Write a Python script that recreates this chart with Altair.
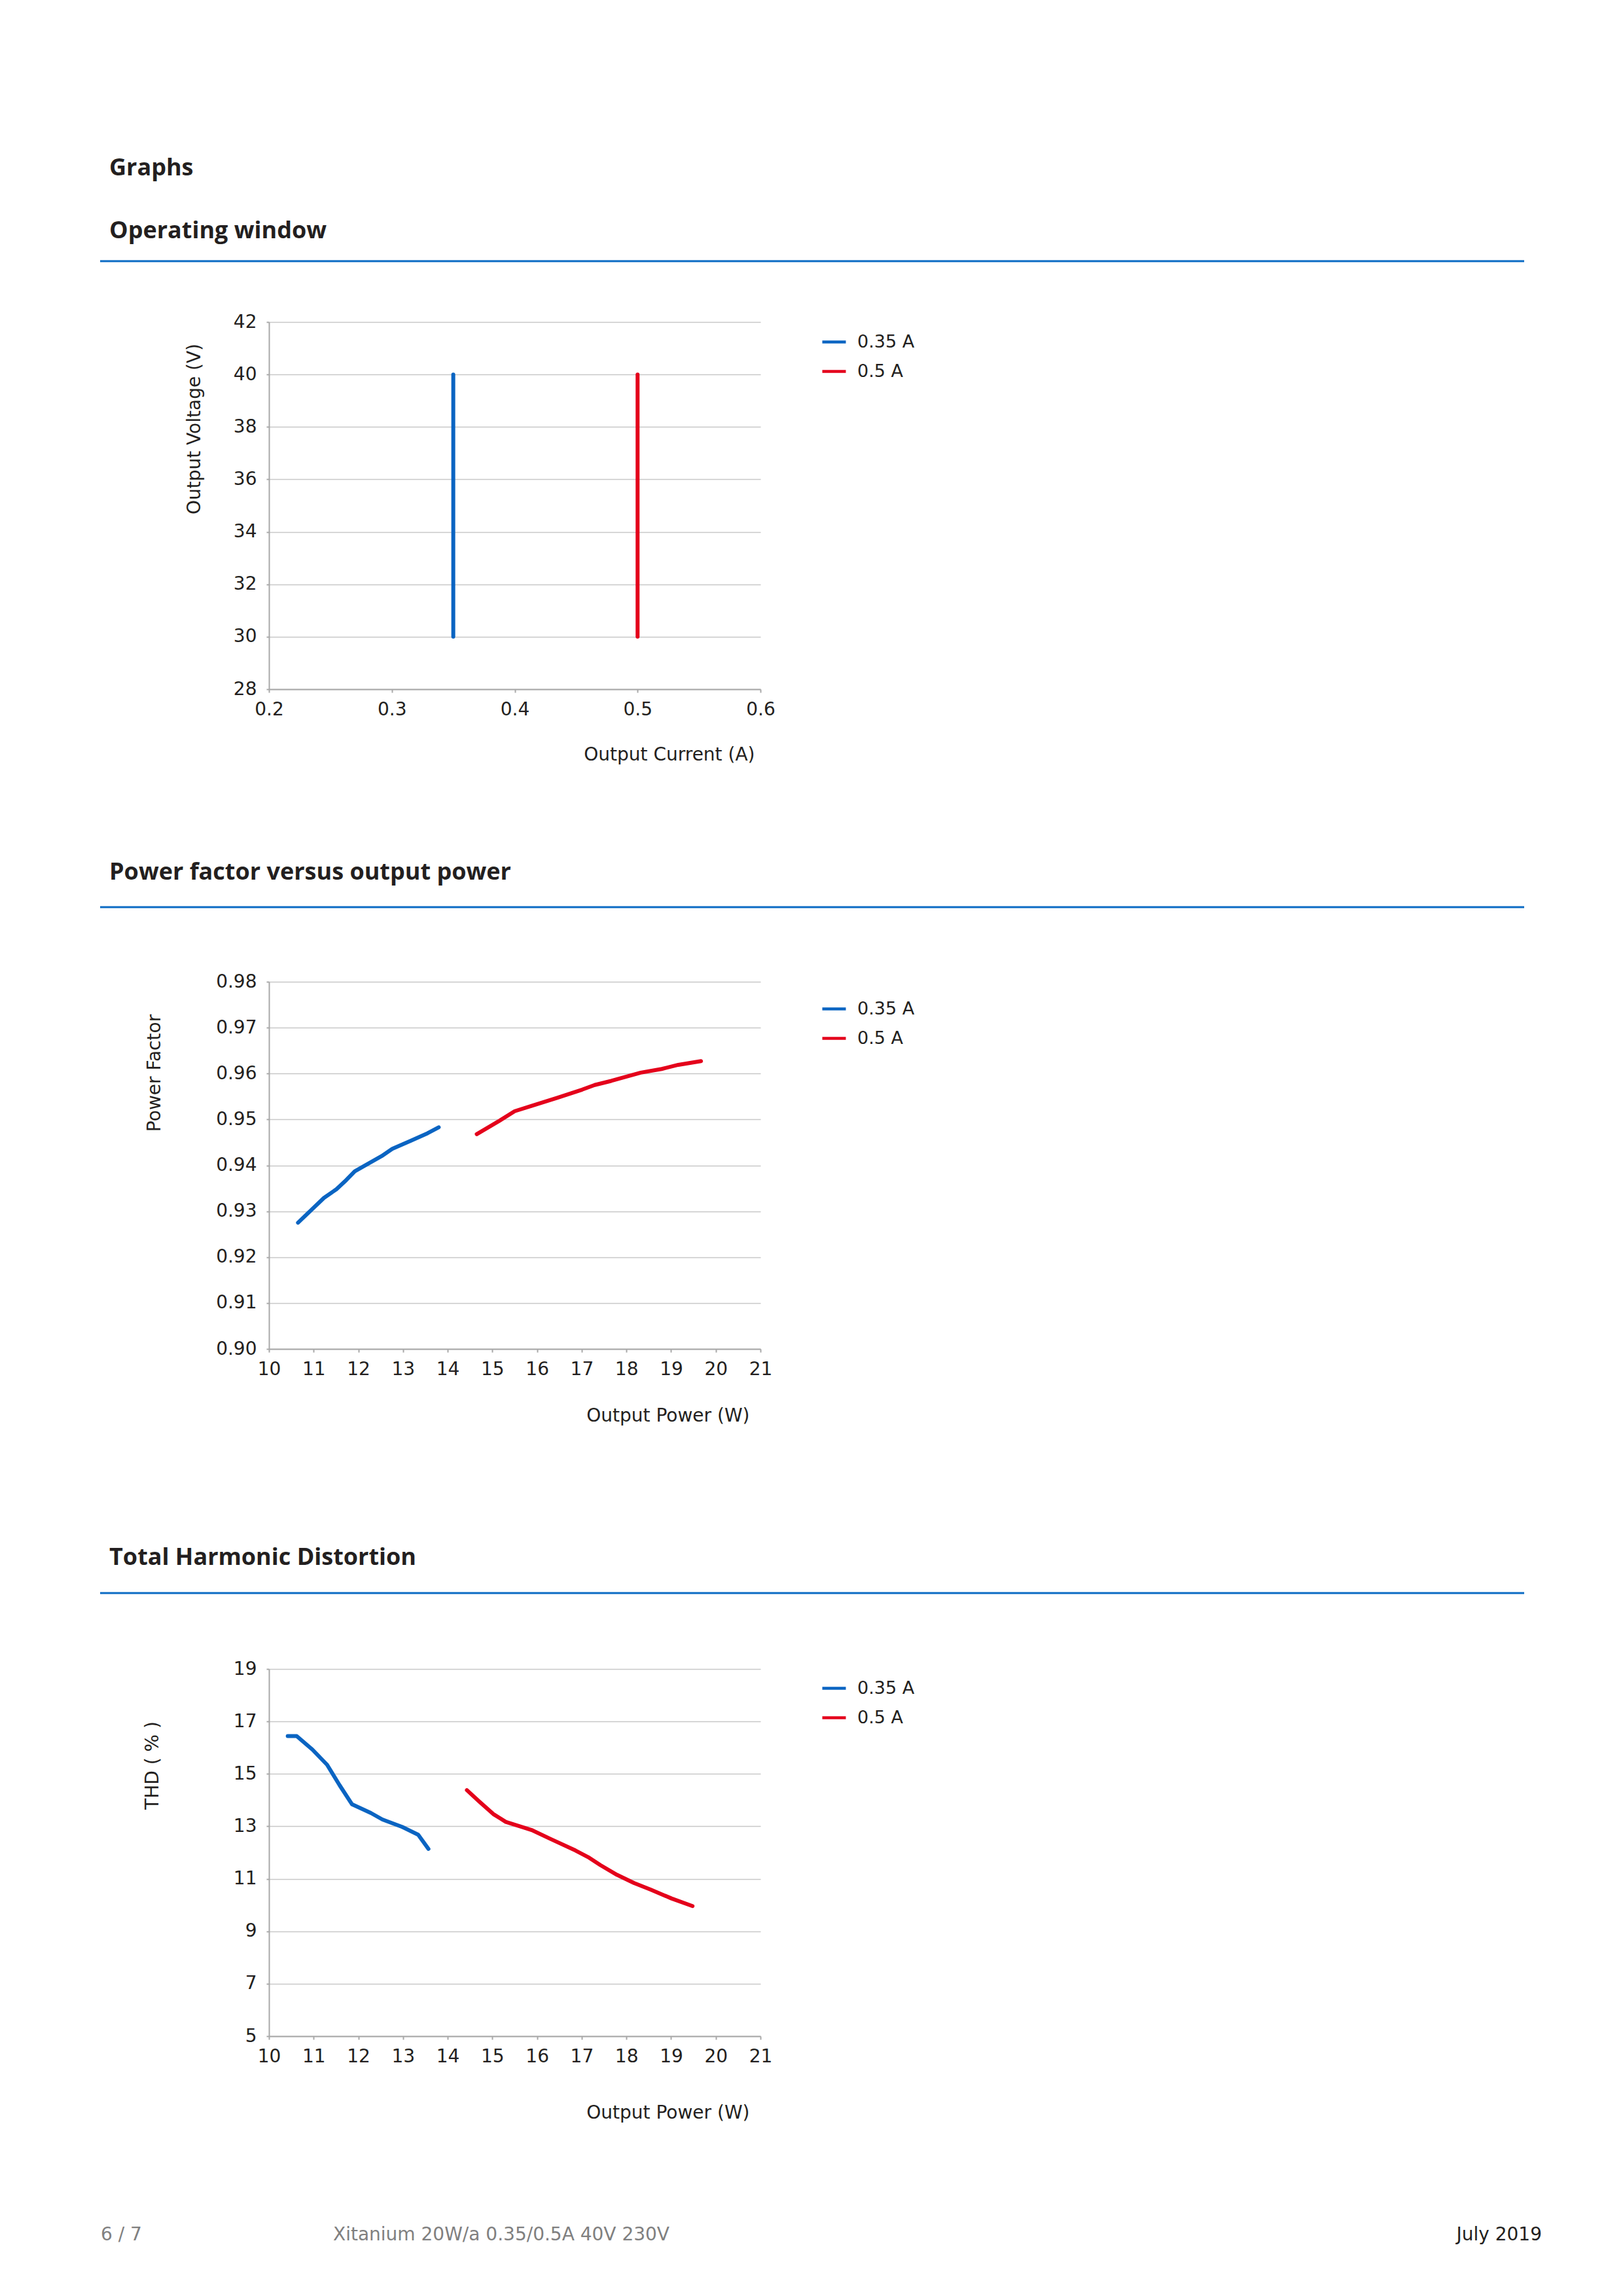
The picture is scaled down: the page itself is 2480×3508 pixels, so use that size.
import altair as alt
import pandas as pd

FONT = "DejaVu Sans"
HFONT = "Open Sans"
TXT = "#231f20"
GRAY_TXT = "#808080"
AXIS_C = "#a8a8a8"
GRID_C = "#c8c8c8"
BLUE_RULE = "#0b6bc4"

SERIES = ["0.35 A", "0.5 A"]
SERIES_COLORS = ["#0a64c2", "#e4001b"]

# ---- Operating window ----
ow_current_035 = [0.35, 0.35]
ow_voltage_035 = [30, 40]
ow_current_05 = [0.5, 0.5]
ow_voltage_05 = [30, 40]
ow_x_ticks = [0.2, 0.3, 0.4, 0.5, 0.6]
ow_y_ticks = [28, 30, 32, 34, 36, 38, 40, 42]

# ---- Power factor versus output power ----
pf_power_035 = [10.65, 11.23, 11.51, 11.73, 11.92, 12.10, 12.52, 12.76, 13.18, 13.55, 13.80]
pf_035 = [0.9275, 0.9329, 0.9348, 0.9368, 0.9387, 0.9397, 0.9420, 0.9436, 0.9454, 0.9470, 0.9483]
pf_power_05 = [14.65, 15.14, 15.50, 15.89, 16.45, 17.01, 17.29, 17.66, 18.32, 18.79, 19.16, 19.67]
pf_05 = [0.9468, 0.9496, 0.9518, 0.9530, 0.9547, 0.9565, 0.9575, 0.9584, 0.9602, 0.9610, 0.9619, 0.9627]
pf_y_ticks = [0.90, 0.91, 0.92, 0.93, 0.94, 0.95, 0.96, 0.97, 0.98]

# ---- Total Harmonic Distortion ----
thd_power_035 = [10.42, 10.62, 10.97, 11.30, 11.58, 11.86, 12.28, 12.54, 12.98, 13.34, 13.57]
thd_035 = [16.44, 16.44, 15.93, 15.35, 14.57, 13.84, 13.51, 13.26, 12.98, 12.68, 12.14]
thd_power_05 = [14.43, 14.71, 15.02, 15.30, 15.88, 16.30, 16.86, 17.14, 17.42, 17.79, 18.17, 18.54, 19.01, 19.48]
thd_05 = [14.38, 13.94, 13.47, 13.17, 12.86, 12.52, 12.08, 11.83, 11.52, 11.15, 10.84, 10.59, 10.25, 9.96]
thd_y_ticks = [5, 7, 9, 11, 13, 15, 17, 19]

power_x_ticks = [10, 11, 12, 13, 14, 15, 16, 17, 18, 19, 20, 21]

PLOT_W, PLOT_H = 751, 561


def frame(xs_a, ys_a, xs_b, ys_b):
    return pd.DataFrame({
        "x": list(xs_a) + list(xs_b),
        "y": list(ys_a) + list(ys_b),
        "series": [SERIES[0]] * len(xs_a) + [SERIES[1]] * len(xs_b),
        "order": list(range(len(xs_a))) + list(range(len(xs_b))),
    })


def x_axis(values, fmt, title, title_x, title_y):
    return alt.Axis(values=values, format=fmt, title=title, grid=False,
                    domainColor=AXIS_C, domainWidth=2, tickColor=AXIS_C, tickWidth=2,
                    tickSize=5, labelFont=FONT, labelFontSize=28, labelColor=TXT,
                    labelPadding=12, labelFlush=False, labelOverlap=False,
                    titleFont=FONT, titleFontSize=28, titleFontWeight="normal",
                    titleColor=TXT, titleX=title_x, titleY=title_y,
                    titleAlign="right", titleBaseline="alphabetic")


def y_axis(values, fmt, title, title_x, title_y):
    return alt.Axis(values=values, format=fmt, title=title, grid=True,
                    gridColor=GRID_C, gridWidth=1.5,
                    domainColor=AXIS_C, domainWidth=2, tickColor=AXIS_C, tickWidth=2,
                    tickSize=4, labelFont=FONT, labelFontSize=28, labelColor=TXT,
                    labelPadding=15, labelOverlap=False, labelBaseline="middle",
                    titleFont=FONT, titleFontSize=28, titleFontWeight="normal",
                    titleColor=TXT, titleX=title_x, titleY=title_y, titleAngle=270,
                    titleAlign="center", titleBaseline="middle")


def data_layer(df, xdom, ydom, xaxis, yaxis, legend_y):
    return alt.Chart(df).mark_line(strokeWidth=6, strokeCap="round", strokeJoin="round").encode(
        x=alt.X("x:Q", scale=alt.Scale(domain=xdom, nice=False, zero=False), axis=xaxis),
        y=alt.Y("y:Q", scale=alt.Scale(domain=ydom, nice=False, zero=False), axis=yaxis),
        color=alt.Color("series:N", scale=alt.Scale(domain=SERIES, range=SERIES_COLORS),
                        legend=alt.Legend(orient="none", legendX=843, legendY=legend_y,
                                          title=None, symbolType="stroke", symbolSize=1296,
                                          symbolStrokeWidth=4.5, labelFont=FONT, labelFontSize=27,
                                          labelColor=TXT, labelOffset=15, rowPadding=11,
                                          padding=0)),
        order="order:Q",
    )


def text_layer(txt, x, y, size, weight="normal", color=TXT, align="left", font=FONT):
    return alt.Chart(pd.DataFrame({"t": [txt]})).mark_text(
        font=font, fontSize=size, fontWeight=weight, color=color, align=align,
        baseline="alphabetic").encode(text="t:N", x=alt.value(x), y=alt.value(y))


def rule_layer(x1, x2, y, color=BLUE_RULE, width=3):
    return alt.Chart(pd.DataFrame({"r": [0]})).mark_rule(color=color, strokeWidth=width).encode(
        x=alt.value(x1), x2=alt.value(x2), y=alt.value(y))


def spacer(h):
    return alt.Chart(pd.DataFrame({"r": [0]})).mark_point(opacity=0).encode(
        x=alt.value(0), y=alt.value(0)).properties(width=PLOT_W, height=h)


# Panel 1: Operating window
ow_df = frame(ow_current_035, ow_voltage_035, ow_current_05, ow_voltage_05)
panel1 = alt.layer(
    rule_layer(-402, -400, -483, color="#ffffff", width=1),
    text_layer("Graphs", -244, -224, 36, "bold", font=HFONT),
    text_layer("Operating window", -244, -128, 36, "bold", font=HFONT),
    rule_layer(-258, 1918, -93),
    data_layer(ow_df, [0.2, 0.6], [28, 42],
               x_axis(ow_x_ticks, ".1f", "Output Current (A)", 742, 108),
               y_axis(ow_y_ticks, "d", "Output Voltage (V)", -114, 163), 10),
).properties(width=PLOT_W, height=PLOT_H)

# Panel 2: Power factor
pf_df = frame(pf_power_035, pf_035, pf_power_05, pf_05)
panel2 = alt.layer(
    text_layer("Power factor versus output power", -244, -156, 36, "bold", font=HFONT),
    rule_layer(-258, 1918, -114),
    data_layer(pf_df, [10, 21], [0.90, 0.98],
               x_axis(power_x_ticks, "d", "Output Power (W)", 734, 110),
               y_axis(pf_y_ticks, ".2f", "Power Factor", -175, 139), 21),
).properties(width=PLOT_W, height=PLOT_H)

# Panel 3: THD
thd_df = frame(thd_power_035, thd_035, thd_power_05, thd_05)
panel3 = alt.layer(
    text_layer("Total Harmonic Distortion", -244, -159, 36, "bold", font=HFONT),
    rule_layer(-258, 1918, -116),
    data_layer(thd_df, [10, 21], [5, 19],
               x_axis(power_x_ticks, "d", "Output Power (W)", 734, 125),
               y_axis(thd_y_ticks, "d", "THD ( % )", -178, 147), 9),
    text_layer("6 / 7", -257, 873, 28, color=GRAY_TXT),
    text_layer("Xitanium 20W/a 0.35/0.5A 40V 230V", 98, 873, 28, color=GRAY_TXT),
    text_layer("July 2019", 1945, 873, 28, align="right"),
    rule_layer(2000, 2002, 940, color="#ffffff", width=1),
).properties(width=PLOT_W, height=PLOT_H)

chart = alt.vconcat(
    panel1, spacer(447), panel2, spacer(489), panel3, spacing=0, bounds="flush"
).resolve_scale(color="independent").resolve_legend(color="independent").properties(
    padding=0, background="white"
).configure_view(stroke="transparent")

chart.save("out.html", embed_options={"renderer": "svg", "actions": False})
